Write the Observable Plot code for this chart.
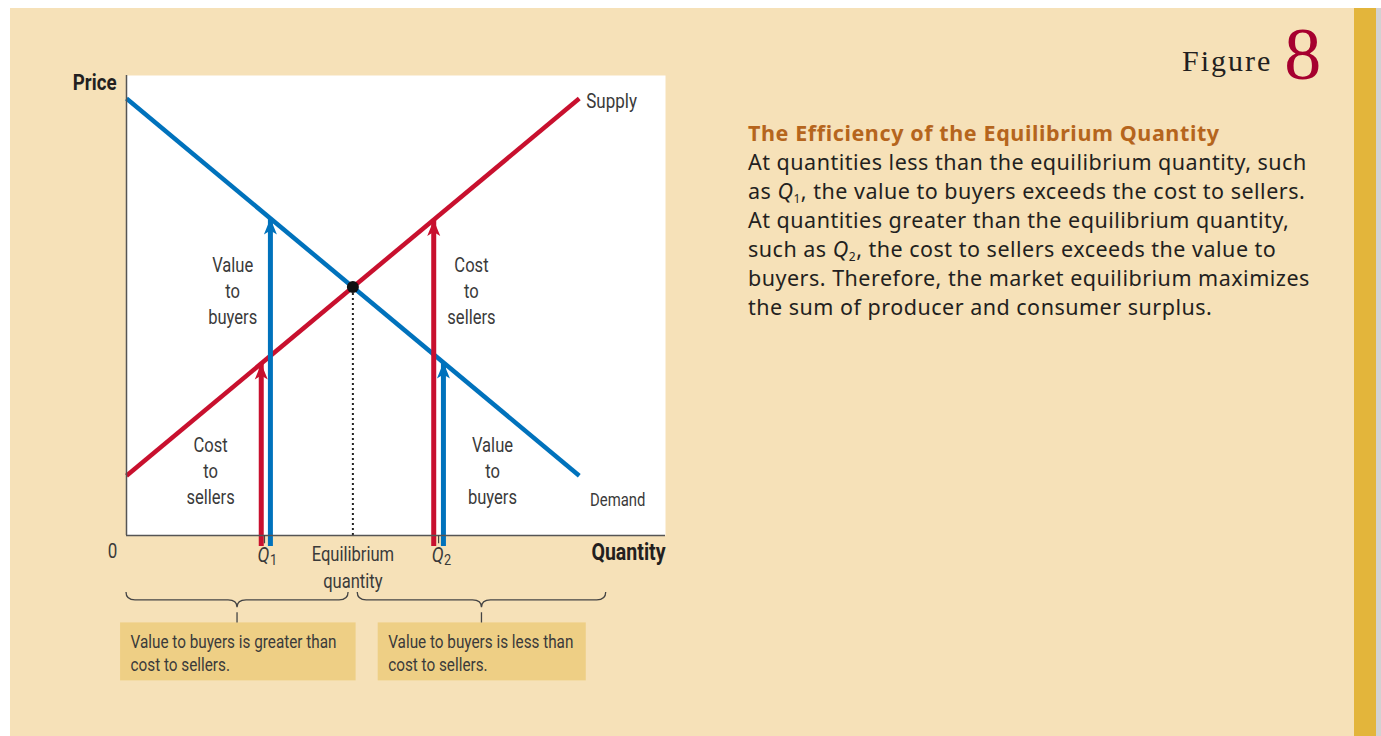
<!DOCTYPE html>
<html>
<head>
<meta charset="utf-8">
<script src="https://cdn.jsdelivr.net/npm/d3@7"></script>
<script src="https://cdn.jsdelivr.net/npm/@observablehq/plot@0.6"></script>
<style>
  html, body { margin: 0; padding: 0; background: #ffffff; width: 1381px; height: 736px; overflow: hidden; }
  #panel { position: absolute; left: 10px; top: 8px; width: 1344px; height: 728px; background: #f6e1b8; }
  #bar { position: absolute; left: 1354px; top: 8px; width: 22px; height: 728px; background: #e3b53b; }
  #edge { position: absolute; left: 1376px; top: 8px; width: 5px; height: 728px; background: #d2d2d2; }
  #chart { position: absolute; left: 0; top: 0; width: 700px; height: 736px; }
  #fig { position: absolute; left: 1182px; top: 4px; font-family: "Liberation Serif", serif; color: #231f20; white-space: nowrap; }
  #fig .word { font-size: 30px; letter-spacing: 2px; vertical-align: baseline; }
  #fig .num { font-size: 74px; color: #a6002f; margin-left: 12px; vertical-align: baseline; position: relative; top: 8px; }
  #text { position: absolute; left: 748px; top: 118px; font-family: "Noto Sans", sans-serif; font-size: 21.5px; letter-spacing: 0.5px; line-height: 29px; color: #231f20; white-space: nowrap; }
  #text div { height: 29px; }
  #text .title { font-weight: bold; color: #b5651d; letter-spacing: 0.6px; }
  #text sub { font-size: 12px; vertical-align: baseline; position: relative; top: 4px; line-height: 0; }
</style>
</head>
<body>
<div id="panel"></div>
<div id="bar"></div>
<div id="edge"></div>
<div id="chart"></div>
<div id="fig"><span class="word">Figure</span><span class="num">8</span></div>
<div id="text">
  <div class="title">The Efficiency of the Equilibrium Quantity</div>
  <div>At quantities less than the equilibrium quantity, such</div>
  <div>as <i>Q</i><sub>1</sub>, the value to buyers exceeds the cost to sellers.</div>
  <div>At quantities greater than the equilibrium quantity,</div>
  <div>such as <i>Q</i><sub>2</sub>, the cost to sellers exceeds the value to</div>
  <div>buyers. Therefore, the market equilibrium maximizes</div>
  <div>the sum of producer and consumer surplus.</div>
</div>
<script>
// ---- data (quantity and price in arbitrary 0-100 units) ----
const demandQ = [0, 84];
const demandP = [95, 13];
const supplyQ = [0, 84];
const supplyP = [13, 95];
const eqQ = 42;
const eqP = 54;

const arrowQ = [25, 26.7, 57, 58.8];
const arrowTop = [37.4, 68.9, 68.6, 37.6];
const arrowCurve = ["supply", "demand", "supply", "demand"];

const curveLabels = ["Supply", "Demand"];
const curveLabelQ = [85.3, 86];
const curveLabelP = [94.3, 7.6];
const curveLabelSize = [20, 17.5];

const areaLabels = ["Value\nto\nbuyers", "Cost\nto\nsellers", "Cost\nto\nsellers", "Value\nto\nbuyers"];
const areaLabelQ = [19.7, 64, 15.6, 67.9];
const areaLabelP = [53.5, 53.5, 14.3, 14.3];

const qTickNames = ["Q", "Q"];
const qTickSubs = ["1", "2"];
const qTickQ = [25.6, 57.9];

const braceFrom = [0, 42.9];
const braceTo = [41.2, 89];
const braceNotes = ["Value to buyers is greater than\ncost to sellers.", "Value to buyers is less than\ncost to sellers."];
const boxFrom = [-1.1, 46.7];
const boxTo = [42.6, 85.3];

const braceTopP = -12.4, braceLineP = -14.1, braceCuspP = -15.7, braceTickTopP = -16.8, boxTopP = -19.0, boxBottomP = -31.6;

// ---- tables built from the arrays ----
const demand = demandQ.map((q, i) => ({q, p: demandP[i]}));
const supply = supplyQ.map((q, i) => ({q, p: supplyP[i]}));
const arrows = arrowQ.map((q, i) => ({q, top: arrowTop[i], curve: arrowCurve[i]}));
const curveLab = curveLabels.map((t, i) => ({t, q: curveLabelQ[i], p: curveLabelP[i], s: curveLabelSize[i]}));
const areaLab = areaLabels.map((t, i) => ({t, q: areaLabelQ[i], p: areaLabelP[i]}));
const qTicks = qTickNames.map((t, i) => ({t, sub: qTickSubs[i], q: qTickQ[i]}));
const braces = braceFrom.map((a, i) => ({a, b: braceTo[i], note: braceNotes[i], x1: boxFrom[i], x2: boxTo[i]}));

const BLUE = "#0072bc", RED = "#c8102e", INK = "#3a3a3a";
const colorOf = c => c === "supply" ? RED : BLUE;
const narrow = "Roboto, sans-serif";
const light = "normal";

// arrowhead symbol: tip at the origin, pointing up
const arrowHead = {
  draw(ctx) {
    ctx.moveTo(0, 0);
    ctx.lineTo(6.5, 16);
    ctx.lineTo(0, 12);
    ctx.lineTo(-6.5, 16);
    ctx.closePath();
  }
};

function braceMark(index, scales) {
  const {x, y} = scales;
  const g = d3.create("svg:g").attr("fill", "none").attr("stroke", "#444").attr("stroke-width", 1.3);
  for (const br of braces) {
    const x1 = x(br.a), x2 = x(br.b), xm = (x1 + x2) / 2;
    const yt = y(braceTopP), yl = y(braceLineP), yc = y(braceCuspP);
    const r = 9;
    const p = d3.path();
    p.moveTo(x1, yt);
    p.quadraticCurveTo(x1, yl, x1 + r, yl);
    p.lineTo(xm - r, yl);
    p.quadraticCurveTo(xm, yl, xm, yc);
    p.quadraticCurveTo(xm, yl, xm + r, yl);
    p.lineTo(x2 - r, yl);
    p.quadraticCurveTo(x2, yl, x2, yt);
    p.moveTo(xm, y(braceTickTopP));
    p.lineTo(xm, y(boxTopP));
    g.append("path").attr("d", p.toString());
  }
  return g.node();
}

const plot = Plot.plot({
  width: 700,
  height: 736,
  marginLeft: 126,
  marginRight: 35,
  marginTop: 75,
  marginBottom: 201,
  style: {background: "transparent", overflow: "visible"},
  x: {domain: [0, 100], axis: null},
  y: {domain: [0, 100], axis: null},
  marks: [
    Plot.frame({fill: "white", stroke: "none"}),
    // note boxes and braces under the axis
    Plot.rect(braces, {x1: "x1", x2: "x2", y1: boxBottomP, y2: boxTopP, fill: "#eecf85"}),
    Plot.text(braces, {x: "x1", y: boxTopP, text: "note", textAnchor: "start", lineAnchor: "top", dx: 10, dy: 8, lineHeight: 1.3, fontSize: 18, fontWeight: light, fontFamily: narrow, fill: INK}),
    braceMark,
    // dotted equilibrium drop line
    Plot.ruleX([eqQ], {y1: 0, y2: eqP, stroke: "#222", strokeWidth: 2, strokeDasharray: "2,3"}),
    // curves
    Plot.line(supply, {x: "q", y: "p", stroke: RED, strokeWidth: 4.5, strokeLinecap: "butt"}),
    Plot.line(demand, {x: "q", y: "p", stroke: BLUE, strokeWidth: 4.5, strokeLinecap: "butt"}),
    // arrows
    Plot.ruleX(arrows, {x: "q", y1: 0, y2: "top", stroke: d => colorOf(d.curve), strokeWidth: 5, insetTop: 11}),
    Plot.dot(arrows, {x: "q", y: "top", symbol: arrowHead, fill: d => colorOf(d.curve), stroke: "none"}),
    // equilibrium point
    Plot.dot([{q: eqQ, p: eqP}], {x: "q", y: "p", r: 6, fill: "#111"}),
    // axes
    Plot.ruleX([0], {y1: 0, y2: 100, stroke: "#555", strokeWidth: 1.5}),
    Plot.ruleY([0], {x1: 0, x2: 100, stroke: "#555", strokeWidth: 1.5}),
    Plot.ruleX(qTicks, {x: "q", y1: 0, y2: -1.8, stroke: "#444", strokeWidth: 1.2}),
    // labels
    Plot.text(curveLab, {x: "q", y: "p", text: "t", textAnchor: "start", fontSize: d => d.s, fontWeight: light, fontFamily: narrow, fill: INK}),
    Plot.text(areaLab, {x: "q", y: "p", text: "t", lineHeight: 1.35, fontSize: 19.5, fontWeight: light, fontFamily: narrow, fill: INK}),
    Plot.text(["Price"], {x: 0, y: 100, text: d => d, textAnchor: "end", dx: -10, dy: 7, fontSize: 22, fontWeight: "bold", fontFamily: narrow, fill: "#231f20"}),
    Plot.text(["Quantity"], {x: 100, y: 0, text: d => d, textAnchor: "end", dy: 17, fontSize: 23, fontWeight: "bold", fontFamily: narrow, fill: "#231f20"}),
    Plot.text(["0"], {x: 0, y: 0, text: d => d, dx: -14, dy: 16, fontSize: 20, fontWeight: light, fontFamily: narrow, fill: INK}),
    Plot.text(qTicks, {x: "q", y: 0, text: "t", dx: -1, dy: 20, fontSize: 21, fontStyle: "italic", fontWeight: light, fontFamily: narrow, fill: INK}),
    Plot.text(qTicks, {x: "q", y: 0, text: "sub", dx: 9, dy: 25, fontSize: 15, fontWeight: light, fontFamily: narrow, fill: INK}),
    Plot.text(["Equilibrium\nquantity"], {x: eqQ, y: 0, text: d => d, lineAnchor: "top", dy: 7, lineHeight: 1.35, fontSize: 19.5, fontWeight: light, fontFamily: narrow, fill: INK})
  ]
});
// condensed lettering, like the original's condensed face
d3.select(plot).selectAll("text").attr("transform", function() {
  return (this.getAttribute("transform") || "") + " scale(0.85,1)";
});
document.getElementById("chart").appendChild(plot);
</script>
</body>
</html>
